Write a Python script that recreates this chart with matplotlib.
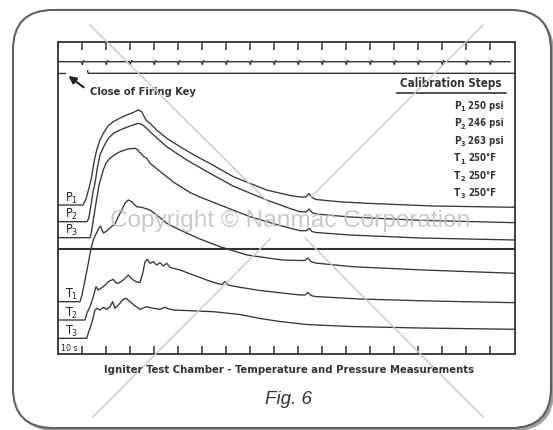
import matplotlib
matplotlib.use("Agg")
import matplotlib.pyplot as plt
from matplotlib.patches import FancyBboxPatch

plt.rcParams["mathtext.fontset"] = "dejavusans"

# chart recorder trace: time in seconds, deflection in chart units above the bottom edge
timing_marks = [10, 20, 30, 40, 50, 60, 70, 80, 90, 100, 110, 120, 130, 140, 150, 160, 170, 180]
firing_key_close = 12.5

p1_t = [0, 10.29, 11.54, 12.79, 13.92, 14.88, 16.0, 17.38, 18.75, 20.71, 22.92, 25.71, 28.5, 30.71,
        33.33, 34.75, 36.13, 36.96, 38.21, 41.0, 45.17, 50.71, 57.67, 63.21, 72.92, 86.83, 96.54,
        100.71, 103.21, 104.46, 105.71, 107.38, 117.38, 128.5, 156.25, 190.3]
p1_v = [149, 149, 155, 166, 177.3, 192, 204, 214, 220.7, 228, 232.3, 236, 239, 241,
        244, 242.3, 235.7, 233, 230.7, 224, 215.7, 207.3, 197.5, 190.5, 177.3, 164, 158.5,
        157, 157, 160.5, 156.5, 154.5, 152.2, 150.7, 148, 146.7]

p2_t = [0, 11.96, 12.71, 13.63, 14.46, 15.29, 16.33, 17.38, 19.04, 20.83, 23.21, 25.71, 29.88,
        33.33, 34.88, 36.83, 38.92, 45.17, 53.5, 63.21, 72.79, 86.83, 96.54, 100.71, 103.21,
        104.46, 105.71, 107.38, 121.54, 150.71, 190.3]
p2_v = [132.3, 132.3, 136, 149, 162, 170.7, 187, 199, 208, 215.7, 221, 224, 228,
        230.7, 229.5, 225.7, 220.7, 207.3, 194, 180.7, 168, 154, 145.5, 142.3, 142,
        145, 141.5, 140, 137, 133.7, 131.3]

p3_t = [0, 13.21, 13.83, 14.46, 15.71, 16.96, 18.75, 19.88, 21.54, 23.63, 25.71, 29.04, 31.96,
        33.21, 33.83, 34.46, 35.29, 36.83, 38.21, 41.67, 47.92, 54.88, 59.04, 63.21, 79.88,
        92.38, 100.71, 103.21, 104.46, 105.71, 107.38, 121.54, 150.71, 190.3]
p3_v = [116.3, 116.3, 122, 132, 151, 169, 184, 191, 195.7, 199.5, 202.3, 205, 205.7,
        204, 201.5, 201, 198, 195.7, 190.7, 184, 172, 161.5, 157, 153, 137.3,
        128.5, 123.3, 123.3, 125.5, 122.5, 121.5, 119, 116, 114]

t1_t = [0, 9.04, 9.88, 11.13, 12.5, 13.5, 14.58, 15.71, 16.96, 17.58, 18.21, 18.83, 20.17, 22.25,
        23.63, 25.0, 26.42, 27.79, 29.17, 30.58, 32.67, 34.75, 38.21, 41.0, 45.17, 50.71, 59.04,
        67.38, 78.63, 93.21, 100.71, 102.79, 104.04, 105.29, 106.96, 122.67, 151.96, 190.3]
t1_v = [52.3, 52.3, 59, 74, 90.7, 104, 114, 120, 126, 128, 124, 121, 123, 127.5,
        130, 137.3, 144, 150.7, 154, 152.3, 147.3, 146.7, 144, 139, 130.7, 124, 115,
        107.3, 99, 94, 93.5, 93.5, 96, 92.5, 91, 87.3, 84, 80.7]

t2_t = [0, 11.13, 11.96, 13.21, 14.58, 15.71, 16.67, 17.58, 18.75, 20.83, 22.92, 24.04, 25.0,
        27.08, 29.17, 30.29, 31.25, 32.79, 34.04, 35.29, 36.13, 37.08, 38.21, 39.58, 41.0, 42.38,
        43.75, 45.17, 46.54, 47.92, 50.71, 56.25, 61.83, 66.0, 68.21, 69.46, 70.71, 75.71, 84.04,
        100.71, 102.79, 104.04, 105.29, 106.96, 125.71, 154.88, 190.3]
t2_v = [34, 34, 41, 47.3, 57.3, 67.3, 64, 65.5, 67.3, 72.3, 74.7, 71, 70.7,
        74, 79, 76, 74, 72, 71.3, 82, 92, 94.7, 90.7, 92.3, 89, 91.3,
        88, 90.7, 86.7, 85.7, 84, 79, 74, 70.7, 69.5, 72.5, 69, 66.7, 63.5,
        59, 59, 61.5, 58.5, 57.5, 55, 53, 51.3]

t3_t = [0, 11.83, 12.79, 13.92, 15.29, 16.25, 17.38, 18.75, 20.17, 21.54, 22.67, 23.63, 25.0,
        27.08, 28.21, 29.88, 31.96, 34.04, 36.83, 39.58, 42.38, 44.46, 45.83, 47.92, 54.88, 64.58,
        75.71, 84.04, 92.38, 103.63, 121.54, 150.71, 190.3]
t3_v = [15.7, 15.7, 23, 30.7, 44, 45.7, 44, 46.7, 44.7, 47.3, 52.3, 45.7, 49,
        54.7, 55.7, 52.3, 48, 44.7, 47.3, 45.7, 44.7, 46.7, 45.3, 44, 43.3, 42.3,
        39.5, 35.5, 32.5, 29.5, 27.5, 26, 24.7]

traces = [("P", "1", p1_t, p1_v), ("P", "2", p2_t, p2_v), ("P", "3", p3_t, p3_v),
          ("T", "1", t1_t, t1_v), ("T", "2", t2_t, t2_v), ("T", "3", t3_t, t3_v)]

cal_names = [("P", "1"), ("P", "2"), ("P", "3"), ("T", "1"), ("T", "2"), ("T", "3")]
cal_values = ["250 psi", "246 psi", "263 psi", "250°F", "250°F", "250°F"]

timing_level = 292.3
firing_level = 280.7
section_split = 105

ink = "#333333"
cond = dict(family="DejaVu Sans", fontstretch="condensed", fontweight="bold", color=ink)

fig = plt.figure(figsize=(5.53, 4.30), dpi=100)

# rounded card behind everything
bg = fig.add_axes([0, 0, 1, 1], zorder=0)
bg.set_xlim(0, 553)
bg.set_ylim(430, 0)
bg.axis("off")
bg.add_patch(FancyBboxPatch((16, 13), 538, 418, boxstyle="round,pad=0,rounding_size=40",
                            facecolor="#a0a0a0", edgecolor="none"))
bg.add_patch(FancyBboxPatch((13, 10), 538, 418, boxstyle="round,pad=0,rounding_size=40",
                            facecolor="white", edgecolor="#606060", lw=1.5))

ax = fig.add_axes([58.3 / 553, 1 - 354 / 430, (515 - 58.3) / 553, (354 - 41.7) / 430], zorder=1)
ax.set_facecolor("none")
ax.set_xlim(0, 190.3)
ax.set_ylim(0, 312.3)
for s in ax.spines.values():
    s.set_linewidth(1.3)
    s.set_color(ink)
ax.set_xticks(timing_marks)
ax.set_yticks([])
ax.tick_params(axis="x", direction="in", length=5.5, width=1.1, color=ink,
               top=True, bottom=True, labelbottom=False, labeltop=False)

# timing marker trace with a small blip at each mark
tx, ty = [0], [timing_level]
for m in timing_marks:
    tx += [m - 0.4, m, m + 0.5, m + 0.9]
    ty += [timing_level, timing_level - 2.8, timing_level + 1.2, timing_level]
tx.append(188.2)
ty.append(timing_level)
ax.plot(tx, ty, color=ink, lw=1.0)

# firing key line
ax.plot([0, 2.8], [firing_level, firing_level], color=ink, lw=1.0)
ax.plot([firing_key_close - 0.3, firing_key_close, 190.3],
        [firing_level + 2.5, firing_level, firing_level], color=ink, lw=1.0)
ax.annotate("", xy=(3.3, firing_level - 1.0), xytext=(11.5, 265),
            arrowprops=dict(arrowstyle="-|>", color="#222222", lw=1.5, mutation_scale=11))
ax.text(13.2, 262.3, "Close of Firing Key", fontsize=8, va="center", ha="left", **cond)

# pressure / temperature split
ax.axhline(section_split, color=ink, lw=1.5)

for name, sub, t, v in traces:
    ax.plot(t, v, color="#363636", lw=0.95)
    ax.text(2.6, v[0] + 3.5, name + r"$_{\mathregular{" + sub + "}}$", fontsize=9, ha="left",
            va="baseline", family="DejaVu Sans", fontstretch="condensed", color="#222222")

ax.text(1.2, 5.7, "10 s", fontsize=6.3, ha="left", va="center",
        family="DejaVu Sans", fontstretch="condensed", color="#222222")

# calibration steps block
ax.text(184.8, 270, "Calibration Steps", fontsize=8.3, ha="right", va="center", **cond)
ax.plot([141.0, 186.5], [261.3, 261.3], color=ink, lw=1.2)
for i, ((name, sub), val) in enumerate(zip(cal_names, cal_values)):
    y = 248 - 17.46 * i
    ax.text(164.9, y, name, fontsize=7.4, ha="left", va="center", **cond)
    ax.annotate(sub, (164.9, y), xytext=(4.6, -2.3), textcoords="offset points",
                fontsize=5.2, ha="left", va="center", **cond)
    ax.annotate(val, (164.9, y), xytext=(10.2, 0), textcoords="offset points",
                fontsize=6.9, ha="left", va="center", **cond)

fig.text(289.5 / 553, 1 - 370 / 430, "Igniter Test Chamber - Temperature and Pressure Measurements",
         fontsize=8.1, ha="center", va="center", **cond)
fig.text(288 / 553, 1 - 400 / 430, "Fig. 6", fontsize=13.5, style="italic", ha="center",
         va="center", family="Liberation Sans", color="#333333")

# watermark
wm = fig.add_axes([0, 0, 1, 1], zorder=2)
wm.set_xlim(0, 553)
wm.set_ylim(430, 0)
wm.axis("off")
wm_segments = [((90, 25), (270, 204)), ((483, 25), (311, 197)),
               ((270, 239), (93, 417)), ((305, 238), (483, 417))]
for (x0, y0), (x1, y1) in wm_segments:
    wm.plot([x0, x1], [y0, y1], color="#c8c8c8", lw=1.0)
wm.text(290, 221, "Copyright © Nanmac Corporation", fontsize=17.6, ha="center", va="center",
        family="Liberation Sans", color="#c0c0c0", alpha=0.85)

fig.savefig("out.png", dpi=100)
